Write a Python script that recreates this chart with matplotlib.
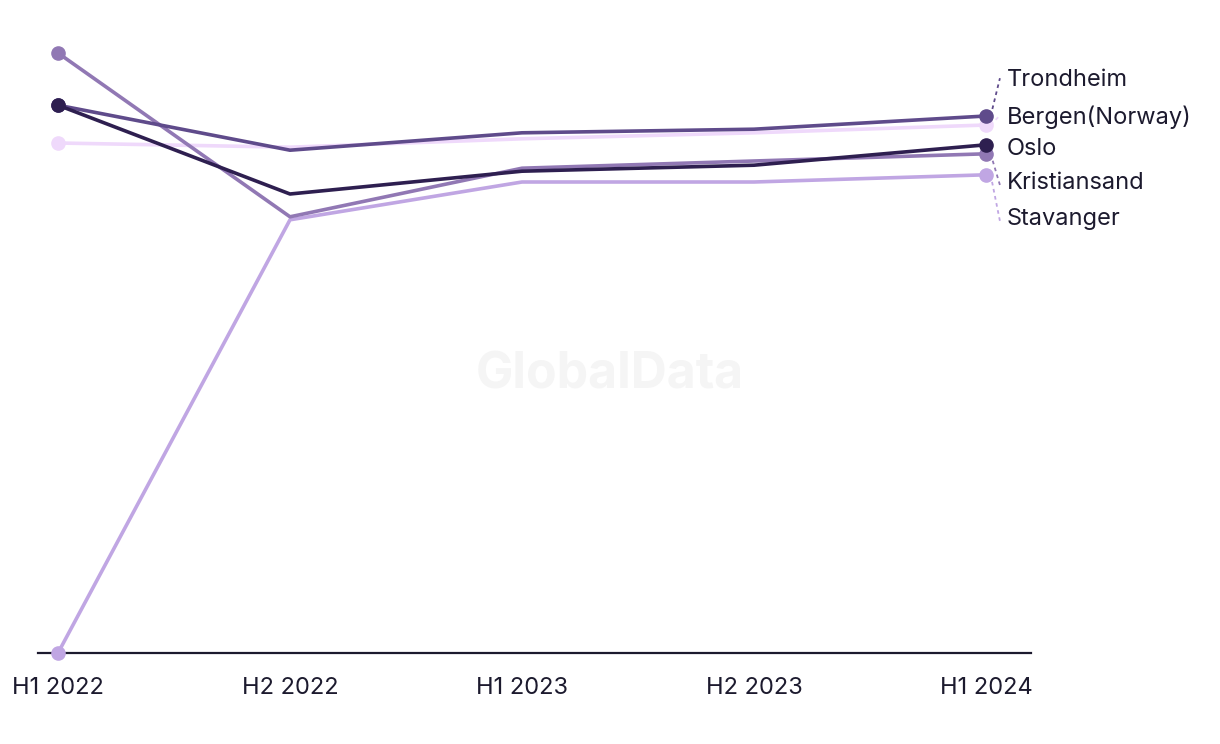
import matplotlib.pyplot as plt

periods = ['H1 2022', 'H2 2022', 'H1 2023', 'H2 2023', 'H1 2024']
cities = ['Trondheim', 'Bergen(Norway)', 'Oslo', 'Kristiansand', 'Stavanger']
trondheim = [91.3, 83.8, 86.7, 87.3, 89.5]
bergen = [85.0, 84.3, 85.7, 86.7, 88.0]
oslo = [91.3, 76.5, 80.3, 81.3, 84.7]
kristiansand = [100.0, 72.7, 80.8, 82.0, 83.2]
stavanger = [0.0, 72.2, 78.5, 78.5, 79.7]

colors = ['#5f4b8b', '#efd9fb', '#2e1f50', '#9178b4', '#c0a6e3']
series = [trondheim, bergen, oslo, kristiansand, stavanger]
# where the end labels sit (dodged so they don't overlap)
label_y = [95.5, 89.3, 84.0, 78.3, 72.3]
draw_order = [1, 4, 3, 0, 2]

plt.rcParams['font.family'] = ['Inter', 'DejaVu Sans']

fig = plt.figure(figsize=(12.2, 7.44), dpi=100)
ax = fig.add_axes([38 / 1220, 91 / 744, (1031 - 38) / 1220, (653 - 30) / 744])

x = list(range(len(periods)))
for z, i in enumerate(draw_order):
    y = series[i]
    ax.plot(x, y, color=colors[i], lw=2.6, zorder=3 + z, solid_capstyle='round')
    ax.plot([x[0], x[-1]], [y[0], y[-1]], 'o', color=colors[i], ms=9.5,
            zorder=3 + z, clip_on=False)

for i, name in enumerate(cities):
    y_end = series[i][-1]
    if abs(label_y[i] - y_end) > 1.2:
        ax.plot([x[-1] + 0.02, 4.06], [y_end, label_y[i] + 0.3 * (1 if label_y[i] > y_end else -1)],
                ls=(0, (2, 2)), lw=1.3, color=colors[i], clip_on=False, zorder=2)
    ax.text(4.09, label_y[i], name, fontsize=17, color='#1c1a2e', va='center', ha='left')

ax.text(0.5, 0.496, 'GlobalData', transform=fig.transFigure, fontsize=36,
        fontweight='bold', color='#f5f5f5', ha='center', va='center', zorder=0)

ax.set_xlim(-20 / 232, (1031 - 58) / 232)
ax.set_ylim(0, (653 - 30) / 6)
ax.set_xticks(x)
ax.set_xticklabels(periods, fontsize=17, color='#1c1a2e')
ax.tick_params(axis='x', length=0, pad=17)
ax.set_yticks([])
for s in ['top', 'right', 'left']:
    ax.spines[s].set_visible(False)
ax.spines['bottom'].set_color('#1c1a2e')
ax.spines['bottom'].set_linewidth(1.6)
ax.spines['bottom'].set_zorder(2)

fig.savefig('out.png', dpi=100)
